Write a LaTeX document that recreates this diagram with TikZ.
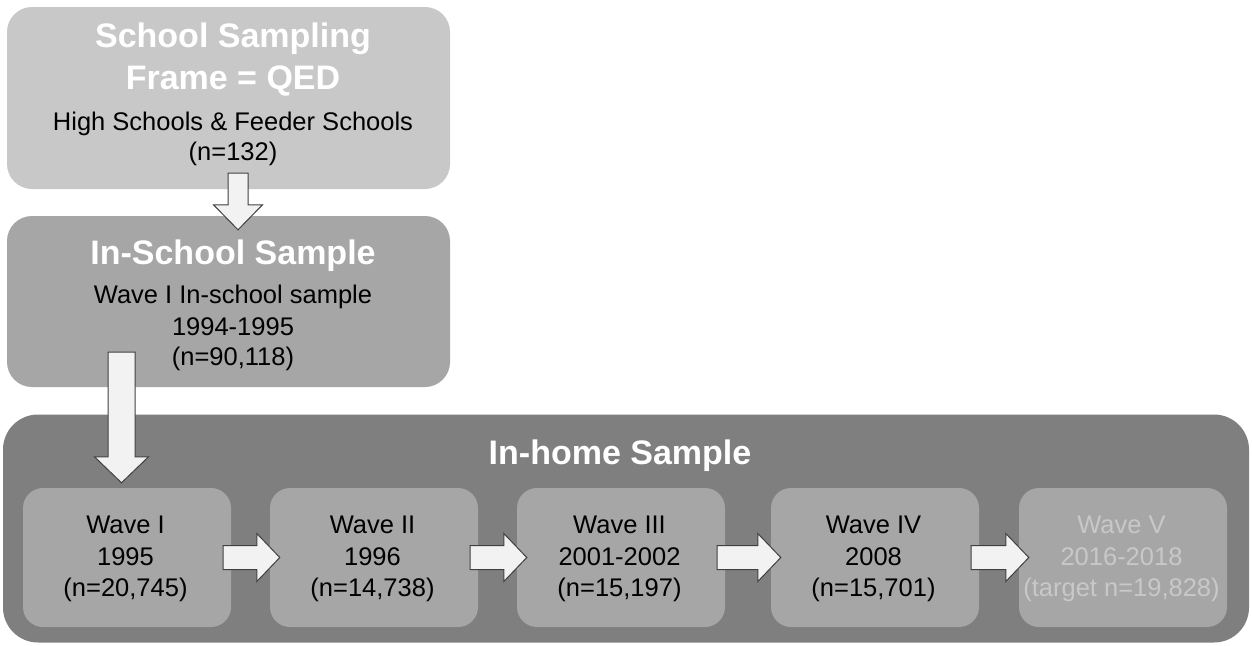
\documentclass[tikz,border=0pt]{standalone}
\usepackage{fontspec}
\setmainfont{Liberation Sans}
\usetikzlibrary{calc}
\definecolor{boxA}{RGB}{200,200,200}
\definecolor{boxB}{RGB}{166,166,166}
\definecolor{boxC}{RGB}{127,127,127}
\definecolor{waveF}{RGB}{166,166,166}
\definecolor{waveVtxt}{RGB}{200,200,200}
\definecolor{arrF}{RGB}{242,242,242}
\definecolor{arrD}{RGB}{64,64,64}
\tikzset{
  panel/.style={fill=#1, draw=none, inner sep=0pt},
  wavebox/.style={fill=waveF, draw=none, rounded corners=20pt, minimum width=208pt, minimum height=139pt, inner sep=0pt},
  title/.style={anchor=base, text=white, font=\fontsize{34}{40}\selectfont\bfseries},
  body/.style={anchor=base, text=black, font=\fontsize{25.5}{30}\selectfont},
  blockarr/.style={fill=arrF, draw=arrD, line width=1pt, line join=miter},
}
\newcommand\rblk[2]{%
  \draw[blockarr] let \p1=($(#1.east)+(-8,0)$), \p2=($(#2.west)+(10,0)$) in
    (\x1,\y1+12pt) -- (\x2-23pt,\y1+12pt) -- (\x2-23pt,\y1+24pt) -- (\x2,\y1)
    -- (\x2-23pt,\y1-24pt) -- (\x2-23pt,\y1-12pt) -- (\x1,\y1-12pt) -- cycle;}
% start, end, shaft half, head half, head length
\newcommand\dblk[5]{%
  \draw[blockarr] let \p1=(#1), \p2=(#2) in
    (\x1-#3pt,\y1) -- (\x1+#3pt,\y1) -- (\x1+#3pt,\y2+#5pt) -- (\x1+#4pt,\y2+#5pt)
    -- (\x1,\y2) -- (\x1-#4pt,\y2+#5pt) -- (\x1-#3pt,\y2+#5pt) -- cycle;}
\begin{document}
\begin{tikzpicture}[x=1pt,y=-1pt]
\useasboundingbox (0,0) rectangle (1252,645);
% panels
\node[panel=boxA, rounded corners=25pt, minimum width=443pt, minimum height=182pt] (frame) at (228.5,98) {};
\node[panel=boxB, rounded corners=25pt, minimum width=443pt, minimum height=171pt] (insch) at (228.5,301.5) {};
\node[panel=boxC, rounded corners=35pt, minimum width=1246pt, minimum height=228pt] (inhome) at (626,528.5) {};
% texts of top panels
\node[title] (f1) at (233,47) {School Sampling};
\node[title] (f2) at (233,89) {Frame = QED};
\node[body] (f3) at (233,130) {High Schools \& Feeder Schools};
\node[body] (f4) at (233,160) {(n=132)};
\node[title] (s1) at (233,264) {In-School Sample};
\node[body] (s2) at (233,303) {Wave I In-school sample};
\node[body] (s3) at (233,335) {1994-1995};
\node[body] (s4) at (233,365) {(n=90,118)};
\node[title] (h1) at (620,464) {In-home Sample};
% waves
\node[wavebox] (w1) at (127,557.5) {};
\node[wavebox] (w2) at (374,557.5) {};
\node[wavebox] (w3) at (621,557.5) {};
\node[wavebox] (w4) at (875,557.5) {};
\node[wavebox] (w5) at (1123,557.5) {};
\foreach \w/\a/\b/\c/\col in {w1/Wave I/1995/(n=20{,}745)/black,
  w2/Wave II/1996/(n=14{,}738)/black,
  w3/Wave III/2001-2002/(n=15{,}197)/black,
  w4/Wave IV/2008/(n=15{,}701)/black,
  w5/Wave V/2016-2018/(target n=19{,}828)/waveVtxt}{
  \node[body, text=\col] (\w a) at ($(\w.center)+(-1.5,-24)$) {\a};
  \node[body, text=\col] (\w b) at ($(\w.center)+(-1.5,7.5)$) {\b};
  \node[body, text=\col] (\w c) at ($(\w.center)+(-1.5,39)$) {\c};
}
% arrows
\coordinate (a1s) at ($(frame.south)+(9.5,-16)$);
\coordinate (a1e) at ($(insch.north)+(9.5,14)$);
\dblk{a1s}{a1e}{10}{24.5}{25}
\coordinate (a2s) at ($(insch.south)+(-107,-35)$);
\coordinate (a2e) at ($(w1.north)+(-5.5,-5)$);
\dblk{a2s}{a2e}{13.5}{27}{26}
\rblk{w1}{w2}
\rblk{w2}{w3}
\rblk{w3}{w4}
\rblk{w4}{w5}
\end{tikzpicture}
\end{document}
